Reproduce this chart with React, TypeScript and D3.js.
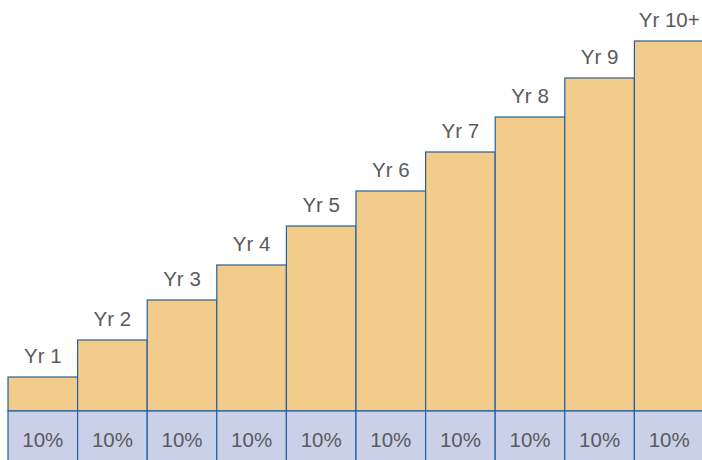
import React from "react";
import * as d3 from "d3";

const categories = ["Yr 1", "Yr 2", "Yr 3", "Yr 4", "Yr 5", "Yr 6", "Yr 7", "Yr 8", "Yr 9", "Yr 10+"];
const stepValues = [34, 71, 111, 146, 185, 220, 259, 294, 333, 370];
const baseLabels = ["10%", "10%", "10%", "10%", "10%", "10%", "10%", "10%", "10%", "10%"];

const W = 702;
const H = 460;

export default function App() {
  const x = d3.scaleBand<string>().domain(categories).range([8, 704]).padding(0);
  const y = d3.scaleLinear().domain([0, 370]).range([411, 41]);
  const bandTop = y(0);
  const bandBottom = 466;
  const font = "'Liberation Sans', Arial, Helvetica, sans-serif";
  const stroke = "#2060a6";
  return (
    <svg
      width={W}
      height={H}
      style={{ position: "absolute", left: 0, top: 0, display: "block", background: "#fff" }}
    >
      {categories.map((c, i) => {
        const x0 = x(c)!;
        const bw = x.bandwidth();
        const top = y(stepValues[i]);
        return (
          <g key={c}>
            <rect x={x0} y={top} width={bw} height={bandTop - top} fill="#f3cc8b" stroke={stroke} strokeWidth={1.2} />
            <rect x={x0} y={bandTop} width={bw} height={bandBottom - bandTop} fill="#cad0e8" stroke={stroke} strokeWidth={1.2} />
            <text
              x={x0 + bw / 2}
              y={top - 14.5}
              textAnchor="middle"
              fontFamily={font}
              fontSize={20.5}
              fill="#5a5a5a"
            >
              {c}
            </text>
            <text
              x={x0 + bw / 2}
              y={447}
              textAnchor="middle"
              fontFamily={font}
              fontSize={20.5}
              fill="#5a5a5a"
            >
              {baseLabels[i]}
            </text>
          </g>
        );
      })}
    </svg>
  );
}
